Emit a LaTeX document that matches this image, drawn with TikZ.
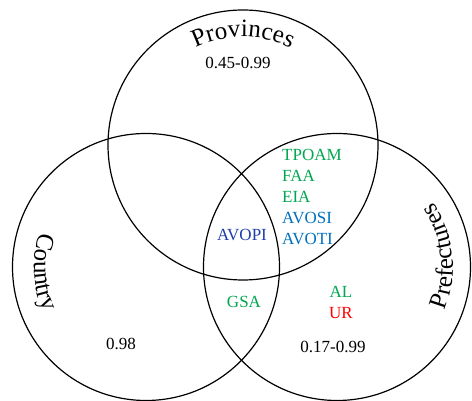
\documentclass[tikz,border=0pt]{standalone}
\usepackage{fontspec}
\setmainfont{Liberation Serif}
\usepackage{tikz}
\usetikzlibrary{positioning}
\usetikzlibrary{decorations.text}

\definecolor{vgreen}{RGB}{0,166,80}
\definecolor{vblue}{RGB}{0,112,192}
\definecolor{vdarkblue}{RGB}{30,62,170}
\definecolor{vred}{RGB}{255,0,0}

\begin{document}
\begin{tikzpicture}[x=1pt,y=1pt,
			      venn/.style={draw,circle,line width=1.2pt,minimum size=267pt,inner sep=0pt},
			      lbl/.style={inner sep=0pt,font=\fontsize{17}{17}\selectfont},
			      green lbl/.style={lbl,text=vgreen},
			      blue lbl/.style={lbl,text=vblue},
			      title/.style={decorate,decoration={text along path,text align=center,
					      text={|\fontsize{25}{25}\selectfont|#1}}},
			      node distance=21pt]
		      \useasboundingbox (0,0) rectangle (472,401);
		      % the three sets
		      \node[venn,minimum size=270pt] (prov) at (243,256) {};
		      \node[venn] (country) at (146,134) {};
		      \node[venn] (pref) at (337,134) {};
		      % set titles bent along the circles
		      \path[title=Provinces] (prov.center) ++(150:108pt) arc[start angle=150,end angle=30,radius=108pt];
		      \path[title=Country] (country.center) ++(150:112pt) arc[start angle=150,end angle=216,radius=112pt];
		      \path[title=Prefectures] (pref.center) ++(-30:116pt) arc[start angle=-30,end angle=42,radius=116pt];
		      % values of each set
		      \node[lbl] (provval) at (238,338) {0.45-0.99};
		      \node[lbl] (countryval) at (121,57) {0.98};
		      \node[lbl] (prefval) at (333,54) {0.17-0.99};
		      % provinces and prefectures
		      \node[green lbl,anchor=west] (tpoam) at (282,246) {TPOAM};
		      \node[green lbl,below=of tpoam.west,anchor=west] (faa) {FAA};
		      \node[green lbl,below=of faa.west,anchor=west] (eia) {EIA};
		      \node[blue lbl,below=of eia.west,anchor=west] (avosi) {AVOSI};
		      \node[blue lbl,below=of avosi.west,anchor=west] (avoti) {AVOTI};
		      % all three
		      \node[lbl,text=vdarkblue] (avopi) at (242,166) {AVOPI};
		      % country and prefectures
		      \node[green lbl] (gsa) at (244,99) {GSA};
		      % prefectures only
		      \node[green lbl] (al) at (341,109) {AL};
		      \node[lbl,text=vred,below=of al.center,anchor=center] (ur) {UR};
	      \end{tikzpicture}
\end{document}
